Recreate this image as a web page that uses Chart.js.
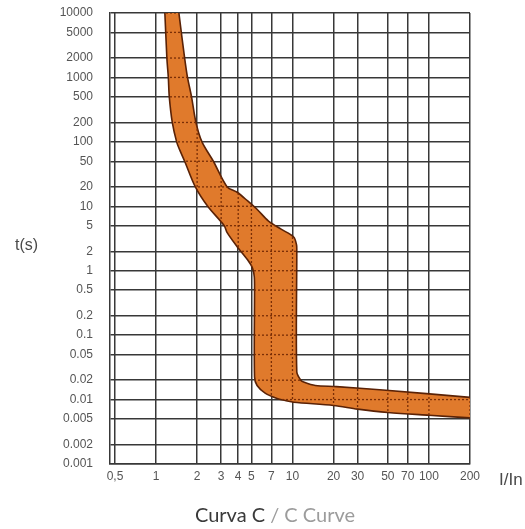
<!DOCTYPE html>
<html>
<head>
<meta charset="utf-8">
<script src="https://cdn.jsdelivr.net/npm/chart.js@4"></script>
<style>
  body { margin: 0; background: #fff; }
</style>
</head>
<body>
<canvas id="curveChart" width="525" height="529"></canvas>
<script>
// tick values and their labels
const xTickValues = [0.5, 1, 2, 3, 4, 5, 7, 10, 20, 30, 50, 70, 100, 200];
const xTickLabels = ['0,5', '1', '2', '3', '4', '5', '7', '10', '20', '30', '50', '70', '100', '200'];
const yTickValues = [0.001, 0.002, 0.005, 0.01, 0.02, 0.05, 0.1, 0.2, 0.5, 1, 2, 5, 10, 20, 50, 100, 200, 500, 1000, 2000, 5000, 10000];
const yTickLabels = ['0.001', '0.002', '0.005', '0.01', '0.02', '0.05', '0.1', '0.2', '0.5', '1', '2', '5', '10', '20', '50', '100', '200', '500', '1000', '2000', '5000', '10000'];

// lower boundary of the band (min tripping)
// (ends run a little past the axis limits and are clipped)
const minCurveI = [1.15, 1.16, 1.2, 1.23, 1.25, 1.315, 1.415, 1.49, 1.62, 1.94, 2.39, 3.16, 3.32, 3.93, 4.67, 5.09, 5.25, 5.27, 5.27, 5.5, 6.3, 7.7, 8.84, 10.2, 20, 30, 50, 100, 200, 280];
const minCurveT = [12000, 10000, 2000, 1000, 500, 200, 100, 75, 50, 20, 10, 5, 3.9, 2.36, 1.49, 1.10, 0.8, 0.5, 0.0225, 0.0165, 0.0126, 0.0104, 0.0097, 0.0091, 0.0081, 0.0071, 0.0063, 0.0057, 0.0052, 0.0050];

// upper boundary of the band (max tripping)
const maxCurveI = [1.46, 1.47, 1.62, 1.70, 1.82, 1.96, 2.17, 2.63, 3.32, 3.93, 4.67, 5.56, 6.64, 8.25, 10.2, 10.7, 10.75, 10.75, 11.5, 12.2, 14.7, 21, 46, 200, 280];
const maxCurveT = [12000, 10000, 2000, 1000, 500, 200, 100, 50, 20, 16.5, 12.2, 8.76, 5.95, 4.41, 3.34, 2.53, 2.0, 0.027, 0.02, 0.0185, 0.0165, 0.0159, 0.0141, 0.0108, 0.0101];

// closed outline: down the min curve, back up the max curve
const bandPoints = minCurveI.map((v, i) => ({ x: v, y: minCurveT[i] }))
    .concat(maxCurveI.map((v, i) => ({ x: v, y: maxCurveT[i] })).reverse());

const gridColor = '#383838';
const labelFont = { family: 'Liberation Sans', size: 12 };

// dotted grid inside the band + free text
const overlay = {
    id: 'overlay',
    afterDatasetsDraw(chart) {
        const ctx = chart.ctx;
        const pts = chart.getDatasetMeta(0).data;
        const area = chart.chartArea;
        ctx.save();
        ctx.beginPath();
        ctx.rect(area.left, area.top, area.right - area.left, area.bottom - area.top);
        ctx.clip();
        ctx.beginPath();
        pts.forEach((p, i) => i ? ctx.lineTo(p.x, p.y) : ctx.moveTo(p.x, p.y));
        ctx.closePath();
        ctx.clip();
        ctx.strokeStyle = '#7a2e06';
        ctx.lineWidth = 1.3;
        ctx.setLineDash([2, 2]);
        xTickValues.forEach(v => {
            const px = chart.scales.x.getPixelForValue(v);
            ctx.beginPath(); ctx.moveTo(px, area.top); ctx.lineTo(px, area.bottom); ctx.stroke();
        });
        yTickValues.forEach(v => {
            const py = chart.scales.y.getPixelForValue(v);
            ctx.beginPath(); ctx.moveTo(area.left, py); ctx.lineTo(area.right, py); ctx.stroke();
        });
        ctx.restore();
    },
    afterDraw(chart) {
        const ctx = chart.ctx;
        ctx.save();
        ctx.fillStyle = '#4a4a4a';
        ctx.textAlign = 'left';
        ctx.textBaseline = 'alphabetic';
        ctx.font = '16px "Liberation Sans"';
        ctx.fillText('t(s)', 15, 250);
        ctx.font = '17px "Liberation Sans"';
        ctx.fillText('I/In', 499, 485);

        // title in two colours
        ctx.font = '20px Lato';
        const a = 'Curva C ';
        const b = '/ C Curve';
        const wa = ctx.measureText(a).width;
        const wb = ctx.measureText(b).width;
        const x0 = 275 - (wa + wb) / 2;
        ctx.fillStyle = '#3a3a3a';
        ctx.fillText(a, x0, 522);
        ctx.fillStyle = '#9c9c9c';
        ctx.fillText(b, x0 + wa, 522);
        ctx.restore();
    }
};

const ctx = document.getElementById('curveChart').getContext('2d');

const curveChart = new Chart(ctx, {
    type: 'line',
    data: {
        datasets: [
            {
                data: bandPoints,
                fill: 'shape',
                backgroundColor: '#e07a2c',
                borderColor: '#5a2206',
                borderWidth: 1.6,
                pointRadius: 0,
                tension: 0.3
            }
        ]
    },
    options: {
        responsive: false,
        animation: false,
        layout: { padding: { top: 13, right: 55, bottom: 0, left: 0 } },
        plugins: {
            legend: { display: false },
            tooltip: { enabled: false }
        },
        scales: {
            x: {
                type: 'logarithmic',
                min: 0.4596,
                max: 200,
                afterBuildTicks: (scale) => { scale.ticks = xTickValues.map(v => ({ value: v })); },
                afterFit: (scale) => { scale.height = 65; scale.paddingLeft = 0; scale.paddingRight = 0; },
                ticks: {
                    autoSkip: false,
                    maxRotation: 0,
                    padding: 5,
                    color: '#555',
                    font: labelFont,
                    callback: (value, index) => xTickLabels[index]
                },
                grid: { color: gridColor, lineWidth: 1.5, drawTicks: false },
                border: { color: gridColor, width: 1.5 }
            },
            y: {
                type: 'logarithmic',
                min: 0.001,
                max: 10000,
                afterBuildTicks: (scale) => { scale.ticks = yTickValues.map(v => ({ value: v })); },
                afterFit: (scale) => { scale.width = 110; scale.paddingTop = 0; scale.paddingBottom = 0; },
                ticks: {
                    autoSkip: false,
                    padding: 17,
                    color: '#555',
                    font: labelFont,
                    callback: (value, index) => yTickLabels[index]
                },
                grid: { color: gridColor, lineWidth: 1.5, drawTicks: false },
                border: { color: gridColor, width: 1.5 }
            }
        }
    },
    plugins: [overlay]
});
</script>
</body>
</html>
